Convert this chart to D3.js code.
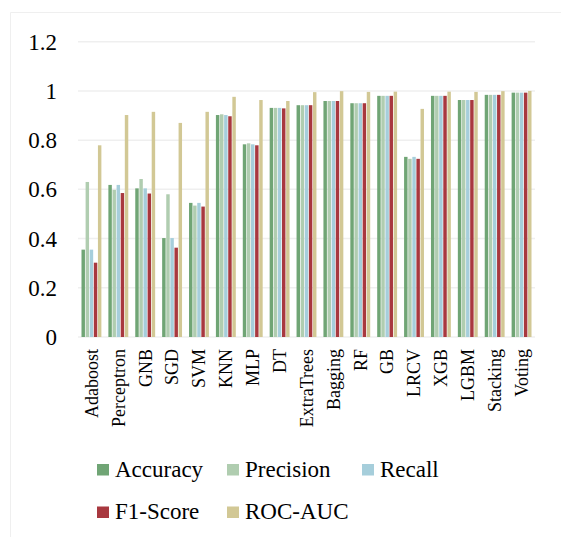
<!DOCTYPE html>
<html>
<head>
<meta charset="utf-8">
<script src="https://cdn.jsdelivr.net/npm/d3@7"></script>
<style>
  html, body { margin: 0; padding: 0; background: #fff; }
  svg { display: block; }
  svg text { font-family: 'Liberation Serif', 'Times New Roman', Tinos, 'DejaVu Serif', serif; fill: #000; }
</style>
</head>
<body>
<svg id="chart" width="561" height="537"></svg>
<script>
// Models compared
const models = ["Adaboost", "Perceptron", "GNB", "SGD", "SVM", "KNN", "MLP", "DT",
  "ExtraTrees", "Bagging", "RF", "GB", "LRCV", "XGB", "LGBM", "Stacking", "Voting"];

// Metric names and colours
const metrics = ["Accuracy", "Precision", "Recall", "F1-Score", "ROC-AUC"];
const metricColors = ["#70a575", "#b0cdb0", "#a6cedb", "#a8383f", "#d2c895"];

// Scores per metric, one value per model
const accuracy  = [0.355, 0.618, 0.604, 0.402, 0.545, 0.902, 0.783, 0.931, 0.942, 0.959, 0.950, 0.980, 0.732, 0.980, 0.963, 0.984, 0.993];
const precision = [0.630, 0.598, 0.642, 0.580, 0.534, 0.905, 0.787, 0.931, 0.942, 0.959, 0.950, 0.980, 0.724, 0.980, 0.963, 0.984, 0.993];
const recall    = [0.355, 0.618, 0.604, 0.402, 0.545, 0.902, 0.783, 0.931, 0.942, 0.959, 0.950, 0.980, 0.732, 0.980, 0.963, 0.984, 0.993];
const f1Score   = [0.302, 0.585, 0.583, 0.363, 0.530, 0.897, 0.779, 0.929, 0.942, 0.959, 0.950, 0.980, 0.724, 0.980, 0.963, 0.984, 0.993];
const rocAuc    = [0.779, 0.902, 0.915, 0.870, 0.915, 0.976, 0.963, 0.959, 0.995, 0.999, 0.996, 0.997, 0.927, 0.997, 0.996, 0.999, 1.000];

// Y axis ticks
const yTicks = [0, 0.2, 0.4, 0.6, 0.8, 1, 1.2];

const seriesValues = [accuracy, precision, recall, f1Score, rocAuc];
const serif = "'Liberation Serif', 'Times New Roman', Tinos, 'DejaVu Serif', serif";

const svg = d3.select("#chart");

// Faint outer frame
svg.append("path")
  .attr("d", "M10.5,537 V12.5 H561")
  .attr("fill", "none")
  .attr("stroke", "#efefef")
  .attr("stroke-width", 1);

const plot = { left: 78, right: 535, top: 41.7, bottom: 337 };

const x = d3.scaleBand()
  .domain(models)
  .range([plot.left, plot.right])
  .paddingInner(0.26)
  .paddingOuter(0.13);

const xInner = d3.scaleBand()
  .domain(metrics)
  .range([0, x.bandwidth()])
  .paddingInner(0.16);

const y = d3.scaleLinear()
  .domain([0, 1.2])
  .range([plot.bottom, plot.top]);

const color = d3.scaleOrdinal().domain(metrics).range(metricColors);

// Gridlines
svg.append("g")
  .selectAll("line")
  .data(yTicks)
  .join("line")
  .attr("x1", plot.left)
  .attr("x2", plot.right)
  .attr("y1", d => y(d))
  .attr("y2", d => y(d))
  .attr("stroke", "#efefef")
  .attr("stroke-width", 1.5);

// Y axis labels
const yAxis = d3.axisLeft(y)
  .tickValues(yTicks)
  .tickFormat(d3.format("~g"))
  .tickSize(0)
  .tickPadding(0);

svg.append("g")
  .attr("transform", `translate(57,0)`)
  .call(yAxis)
  .call(g => g.select(".domain").remove())
  .call(g => g.selectAll("text")
    .style("font-family", serif)
    .style("font-size", "23px")
    .attr("fill", "#000")
    .attr("dy", "0.33em"));

// Bars
const rows = models.map((m, i) => ({ model: m, values: metrics.map((k, j) => ({ key: k, value: seriesValues[j][i] })) }));

svg.append("g")
  .selectAll("g")
  .data(rows)
  .join("g")
  .attr("transform", d => `translate(${x(d.model)},0)`)
  .selectAll("rect")
  .data(d => d.values)
  .join("rect")
  .attr("x", d => xInner(d.key))
  .attr("width", xInner.bandwidth())
  .attr("y", d => y(d.value))
  .attr("height", d => y(0) - y(d.value))
  .attr("fill", d => color(d.key));

// X axis labels (rotated)
const xAxis = d3.axisBottom(x).tickSize(0).tickPadding(0);
svg.append("g")
  .attr("transform", `translate(0,${plot.bottom})`)
  .call(xAxis)
  .call(g => g.select(".domain").remove())
  .call(g => g.selectAll("text")
    .style("font-family", serif)
    .style("font-size", "18px")
    .attr("fill", "#000")
    .attr("text-anchor", "end")
    .attr("transform", "rotate(-90)")
    .attr("x", -12)
    .attr("y", 0)
    .attr("dy", "0.35em"));

// Legend
const legendPos = [
  { sx: 97, ty: 476.5 }, { sx: 227, ty: 476.5 }, { sx: 362, ty: 476.5 },
  { sx: 97, ty: 519 }, { sx: 227, ty: 519 }
];
const legend = svg.append("g")
  .selectAll("g")
  .data(metrics)
  .join("g")
  .attr("transform", (d, i) => `translate(${legendPos[i].sx},${legendPos[i].ty})`);

legend.append("rect")
  .attr("x", 0)
  .attr("y", -12.5)
  .attr("width", 12)
  .attr("height", 11.5)
  .attr("fill", d => color(d));

legend.append("text")
  .attr("x", 18)
  .attr("y", 0)
  .style("font-family", serif)
  .style("font-size", "23px")
  .text(d => d);
</script>
</body>
</html>
